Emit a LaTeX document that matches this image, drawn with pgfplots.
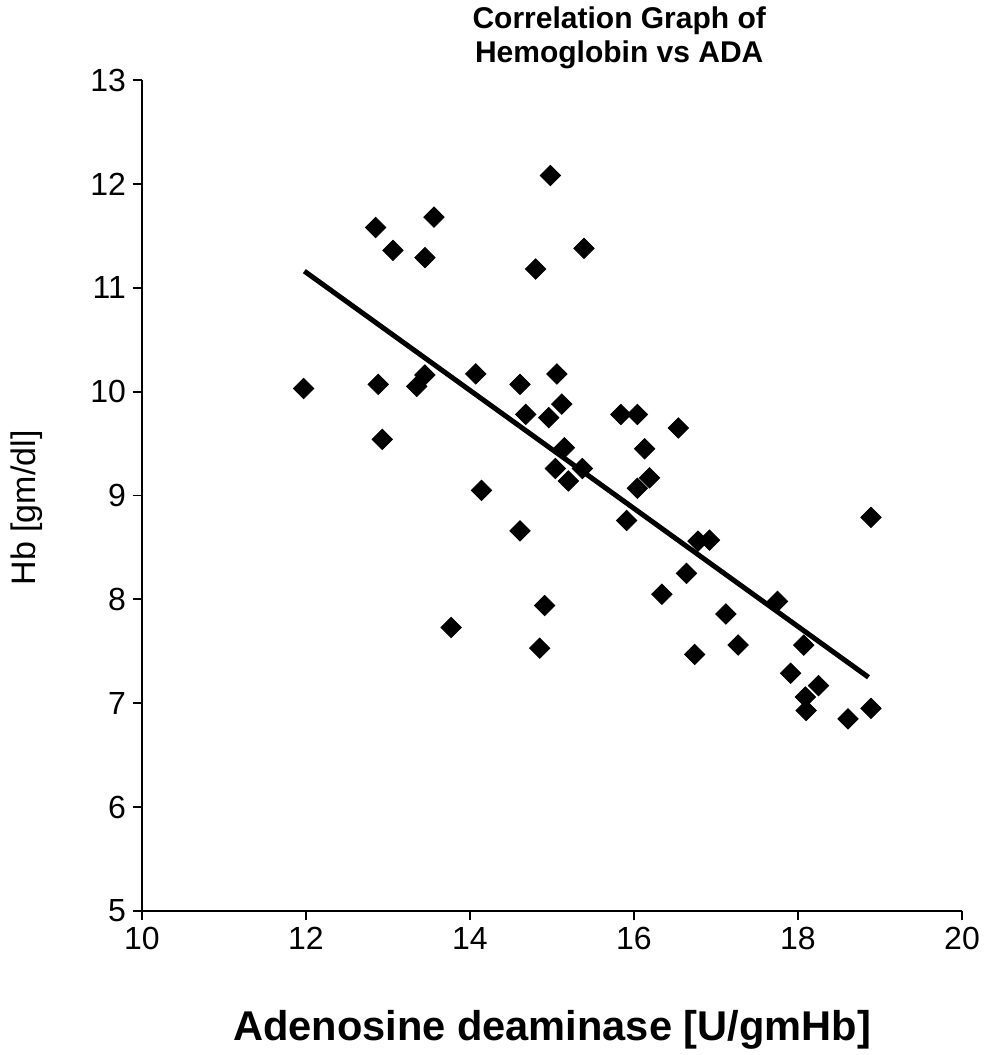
\documentclass[border=0pt]{standalone}
\usepackage{fontspec}
\setmainfont{Liberation Sans}
\usepackage{pgfplots}
\pgfplotsset{compat=1.18}
\begin{document}
\begin{tikzpicture}
\useasboundingbox (-71pt,-72pt) rectangle (425pt,455.5pt);
\begin{axis}[
  scale only axis=true,
  width=410pt, height=415.5pt,
  xmin=10, xmax=20, ymin=5, ymax=13,
  xtick={10,12,14,16,18,20},
  ytick={5,6,7,8,9,10,11,12,13},
  axis lines=left,
  axis line style={-, line width=1pt},
  tick style={line width=0.9pt, black},
  tick align=outside,
  major tick length=4.5pt,
  ticklabel style={font=\fontsize{16}{18}\selectfont},
  /pgf/number format/assume math mode=true,
  clip=false,
  title={Correlation Graph of\\Hemoglobin vs ADA},
  title style={at={(axis description cs:0.582,1.036)}, anchor=center, align=center,
    font=\fontsize{15}{17}\selectfont\bfseries},
  xlabel={Adenosine deaminase [U/gmHb]},
  xlabel style={at={(axis description cs:0.5,-0.143)}, anchor=center,
    font=\fontsize{20.8}{23}\selectfont\bfseries},
  ylabel={Hb [gm/dl]},
  ylabel style={at={(axis description cs:-0.140,0.485)}, anchor=center,
    font=\fontsize{17}{19}\selectfont},
]
\addplot[only marks, mark=square*, mark size=3.6pt, mark options={rotate=45, fill=black, draw=black}] coordinates {
(11.97,10.03) (12.85,11.58) (12.88,10.07) (12.93,9.54) (13.06,11.36)
(13.35,10.05) (13.45,10.16) (13.45,11.29) (13.56,11.68) (13.77,7.73)
(14.07,10.17) (14.14,9.05) (14.61,10.07) (14.61,8.66) (14.68,9.78)
(14.80,11.18) (14.85,7.53) (14.91,7.94) (14.96,9.75) (14.98,12.08)
(15.04,9.26) (15.06,10.17) (15.12,9.88) (15.15,9.46) (15.20,9.14)
(15.37,9.26) (15.39,11.38) (15.84,9.78) (15.91,8.76) (16.04,9.78)
(16.04,9.07) (16.13,9.45) (16.19,9.17) (16.34,8.05) (16.54,9.65)
(16.64,8.25) (16.74,7.47) (16.78,8.56) (16.92,8.57) (17.12,7.86)
(17.27,7.56) (17.75,7.98) (17.91,7.29) (18.07,7.56) (18.09,7.06)
(18.10,6.93) (18.25,7.17) (18.61,6.85) (18.89,6.95) (18.89,8.79)
};
\addplot[black, line width=2.5pt, no marks] coordinates {(11.98,11.16) (18.86,7.25)};
\end{axis}
\end{tikzpicture}
\end{document}
